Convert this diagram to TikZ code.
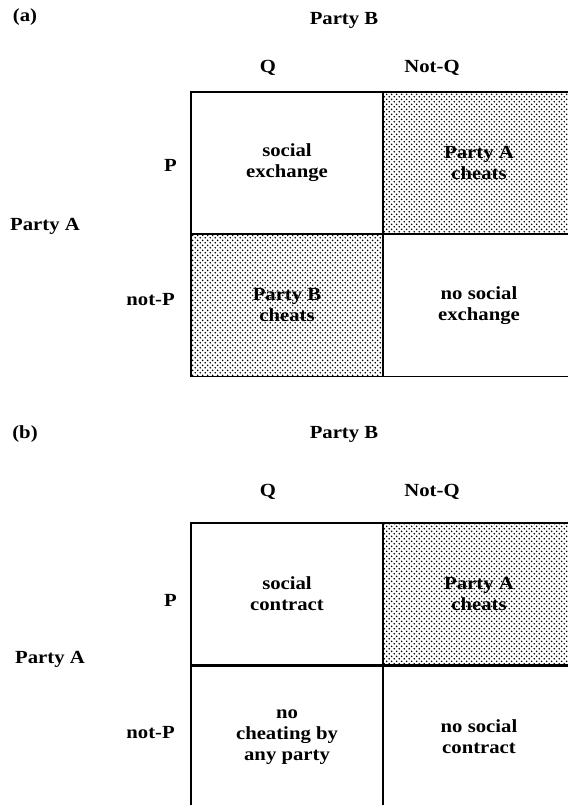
\documentclass[tikz,border=0pt]{standalone}
\usepackage{fontspec}
\newfontfamily\lblfont{Liberation Serif Bold}[FakeStretch=1.12]
\usetikzlibrary{patterns}
\pgfdeclarepatternformonly{stipple}{\pgfpointorigin}{\pgfqpoint{5.4pt}{5.4pt}}{\pgfqpoint{5.4pt}{5.4pt}}{%
  \pgfpathcircle{\pgfqpoint{1.35pt}{1.35pt}}{1.0pt}%
  \pgfpathcircle{\pgfqpoint{4.05pt}{4.05pt}}{1.0pt}%
  \pgfusepath{fill}}
\tikzset{
  lbl/.style={font=\lblfont\fontsize{18.5}{21}\selectfont, inner sep=0pt},
  cell/.style={draw, line width=1.9pt, minimum width=192pt, minimum height=142pt,
     font=\lblfont\fontsize{18.5}{21}\selectfont, align=center, inner sep=0pt},
  shaded/.style={pattern=stipple, pattern color=black}
}
\begin{document}
\begin{tikzpicture}[x=1pt,y=-1pt]
\useasboundingbox (0,0) rectangle (567,805);
% ---------- (a)
\node[lbl] (la) at (25,17) {(a)};
\node[lbl] (pba) at (344,20) {Party B};
\node[lbl] (qa) at (268,68) {Q};
\node[lbl] (nqa) at (432,68) {Not-Q};
\node[lbl, anchor=east] (pa) at (177,165) {P};
\node[lbl] (paa) at (45,226) {Party A};
\node[lbl, anchor=east] (npa) at (175,300) {not-P};
\node[cell] (a11) at (287,163) {social\\exchange};
\node[cell, shaded] (a12) at (479,163) {Party A\\cheats};
\node[cell, shaded] (a21) at (287,305.5) {Party B\\cheats};
\node[cell] (a22) at (479,305.5) {no social\\exchange};
% ---------- (b)
\node[lbl] (lb) at (25,434) {(b)};
\node[lbl] (pbb) at (344,434) {Party B};
\node[lbl] (qb) at (268,492) {Q};
\node[lbl] (nqb) at (432,492) {Not-Q};
\node[lbl, anchor=east] (pb) at (177,600) {P};
\node[lbl] (pab) at (50,659) {Party A};
\node[lbl, anchor=east] (npb) at (175,733) {not-P};
\node[cell] (b11) at (287,594) {social\\contract};
\node[cell, shaded] (b12) at (479,594) {Party A\\cheats};
\node[cell] (b21) at (287,737) {no\\cheating by\\any party};
\node[cell] (b22) at (479,737) {no social\\contract};
\end{tikzpicture}
\end{document}
